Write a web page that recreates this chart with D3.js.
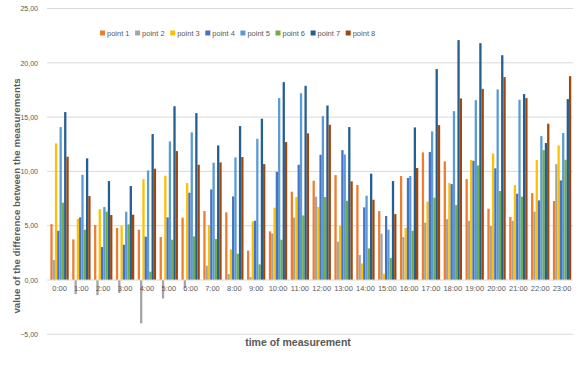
<!DOCTYPE html>
<html>
<head>
<meta charset="utf-8">
<script src="https://cdn.jsdelivr.net/npm/d3@7"></script>
<style>
  html, body { margin: 0; padding: 0; background: #fff; }
  svg { display: block; font-family: "Liberation Sans", Arial, sans-serif; }
</style>
</head>
<body>
<svg id="chart" width="582" height="379"></svg>
<script>
const hours = ["0:00","1:00","2:00","3:00","4:00","5:00","6:00","7:00","8:00","9:00","10:00","11:00",
               "12:00","13:00","14:00","15:00","16:00","17:00","18:00","19:00","20:00","21:00","22:00","23:00"];
const seriesNames = ["point 1","point 2","point 3","point 4","point 5","point 6","point 7","point 8"];
const seriesColors = ["#ED7D31","#A5A5A5","#FFC000","#4472C4","#5B9BD5","#70AD47","#255E91","#9E480E"];

const point1 = [5.15,3.74,5.06,4.79,4.63,3.96,5.74,6.35,6.23,2.70,4.48,8.13,9.14,9.66,8.74,6.35,9.57,11.75,10.92,9.29,6.56,5.80,8.00,7.27];
const point2 = [1.84,-1.3,-1.4,-1.2,-4.0,-1.7,-0.7,1.32,0.55,0.28,4.29,5.74,7.67,3.53,2.30,4.26,3.96,5.28,5.61,5.46,4.97,5.46,6.29,10.67];
const point3 = [12.58,5.64,6.53,5.00,9.29,9.60,8.93,5.06,2.82,5.40,6.66,7.64,6.72,4.97,1.53,0.58,4.79,7.21,8.93,11.04,11.66,8.74,11.04,12.39];
const point4 = [4.54,5.77,3.04,3.25,3.99,5.77,8.04,8.34,7.70,5.46,9.97,10.61,11.53,11.96,6.69,5.89,9.39,11.78,8.83,10.98,10.28,7.94,7.33,9.17];
const point5 = [14.08,9.69,6.72,6.29,10.09,12.76,13.59,10.80,11.29,13.00,16.75,17.20,15.09,11.56,7.76,4.63,9.57,13.68,15.55,16.56,17.55,16.60,13.25,13.53];
const point6 = [7.12,4.63,6.29,5.12,0.77,3.71,4.02,3.77,2.42,1.44,3.71,5.95,7.64,7.30,2.91,2.02,4.54,7.58,6.90,10.55,8.19,7.67,11.96,11.07];
const point7 = [15.46,11.20,9.11,8.65,13.44,16.00,15.37,12.39,14.17,14.85,18.22,17.88,16.07,14.08,9.79,9.11,14.05,19.42,22.09,21.81,20.70,17.12,12.61,16.66];
const point8 = [11.35,7.73,5.98,6.01,10.25,11.87,10.61,10.83,11.32,10.67,12.70,13.50,14.29,9.08,7.39,6.07,10.31,14.26,16.72,17.60,18.68,16.75,14.39,18.77];
const yTicks = [-5,0,5,10,15,20,25];

const allSeries = [point1,point2,point3,point4,point5,point6,point7,point8];
const fmt = v => d3.format(".2f")(v).replace(".", ",");

const svg = d3.select("#chart");
const plotLeft = 47, plotRight = 573;

const y = d3.scaleLinear().domain([-5, 25]).range([334.3, 8.5]);
const x0 = d3.scaleBand().domain(hours).range([48.6, 573]).paddingInner(0.16).paddingOuter(0.08);
const x1 = d3.scaleBand().domain(seriesNames).range([0, x0.bandwidth()]).padding(0);

// gridlines
svg.append("g").selectAll("line").data(yTicks.filter(t => t !== 0)).join("line")
  .attr("x1", plotLeft).attr("x2", plotRight)
  .attr("y1", d => y(d)).attr("y2", d => y(d))
  .attr("stroke", "#d9d9d9").attr("stroke-width", 1);

// y tick labels
const yAxis = d3.axisLeft(y).tickValues(yTicks).tickFormat(fmt).tickSize(0).tickPadding(0);
const yg = svg.append("g").attr("transform", `translate(38,0)`).call(yAxis);
yg.select(".domain").remove();
yg.selectAll("text").attr("fill", "#595959").style("font-size", "7px");

// bars
const groups = svg.append("g").selectAll("g").data(hours).join("g")
  .attr("transform", d => `translate(${x0(d)},0)`);
groups.selectAll("rect")
  .data((h, i) => allSeries.map((s, k) => ({ name: seriesNames[k], v: s[i], c: seriesColors[k] })))
  .join("rect")
  .attr("x", d => x1(d.name))
  .attr("width", x1.bandwidth())
  .attr("y", d => y(Math.max(0, d.v)))
  .attr("height", d => Math.abs(y(d.v) - y(0)))
  .attr("fill", d => d.c);

// zero axis line
svg.append("line")
  .attr("x1", plotLeft).attr("x2", plotRight)
  .attr("y1", y(0)).attr("y2", y(0))
  .attr("stroke", "#d9d9d9").attr("stroke-width", 1);

// x axis labels
const xAxis = d3.axisBottom(x0).tickSize(0).tickPadding(0);
const xg = svg.append("g").attr("transform", `translate(0,${y(0) + 6})`).call(xAxis);
xg.select(".domain").remove();
xg.selectAll("text").attr("fill", "#595959").style("font-size", "7.5px");

// legend
const legend = svg.append("g").attr("transform", "translate(100,33)");
const li = legend.selectAll("g").data(seriesNames).join("g")
  .attr("transform", (d, i) => `translate(${i * 35.1},0)`);
li.append("rect").attr("x", 0).attr("y", -2.5).attr("width", 5).attr("height", 5)
  .attr("fill", (d, i) => seriesColors[i]);
li.append("text").attr("x", 7).attr("y", 0).attr("dy", "0.35em")
  .attr("fill", "#595959").style("font-size", "7.5px").text(d => d);

// axis titles
svg.append("text")
  .attr("transform", "translate(20,196) rotate(-90)")
  .attr("text-anchor", "middle")
  .attr("fill", "#595959")
  .style("font-size", "9.8px").style("font-weight", "bold")
  .text("value of the difference between the measurements");

svg.append("text")
  .attr("x", 298).attr("y", 346)
  .attr("text-anchor", "middle")
  .attr("fill", "#595959")
  .style("font-size", "10.5px").style("font-weight", "bold")
  .text("time of measurement");
</script>
</body>
</html>
